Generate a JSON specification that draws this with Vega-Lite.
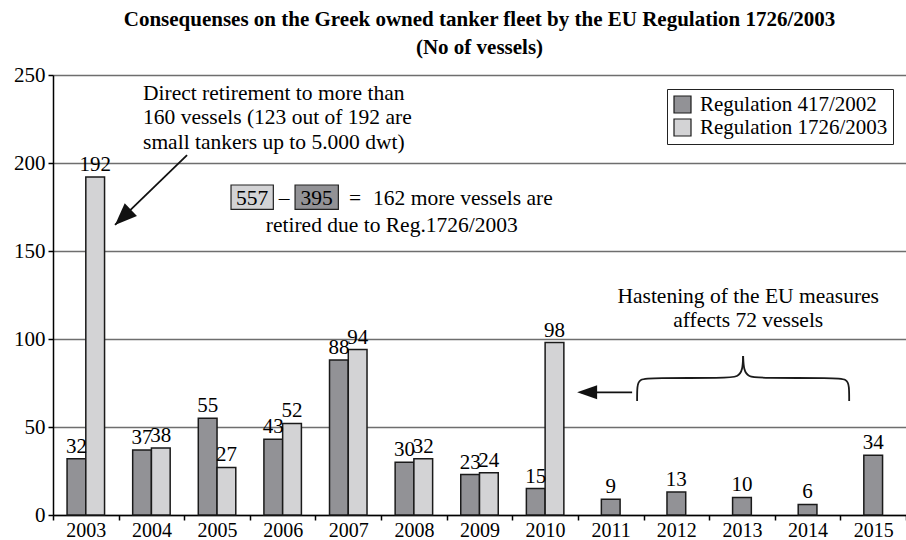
{
  "$schema": "https://vega.github.io/schema/vega-lite/v6.json",
  "width": 853,
  "height": 440,
  "autosize": {"type": "none"},
  "padding": {"left": 53, "top": 75, "right": 0, "bottom": 25},
  "background": "white",
  "config": {"font": "Liberation Serif", "view": {"stroke": null}},
  "title": {
    "text": ["Consequenses on the Greek owned tanker fleet by the EU Regulation 1726/2003", "(No of vessels)"],
    "font": "Liberation Serif",
    "fontSize": 21,
    "fontWeight": "bold",
    "color": "black",
    "anchor": "middle",
    "frame": "group",
    "lineHeight": 28,
    "offset": 6
  },
  "datasets": {
    "bars": [
      {"year": 2003, "regulation": "Regulation 417/2002", "vessels": 32},
      {"year": 2003, "regulation": "Regulation 1726/2003", "vessels": 192},
      {"year": 2004, "regulation": "Regulation 417/2002", "vessels": 37},
      {"year": 2004, "regulation": "Regulation 1726/2003", "vessels": 38},
      {"year": 2005, "regulation": "Regulation 417/2002", "vessels": 55},
      {"year": 2005, "regulation": "Regulation 1726/2003", "vessels": 27},
      {"year": 2006, "regulation": "Regulation 417/2002", "vessels": 43},
      {"year": 2006, "regulation": "Regulation 1726/2003", "vessels": 52},
      {"year": 2007, "regulation": "Regulation 417/2002", "vessels": 88},
      {"year": 2007, "regulation": "Regulation 1726/2003", "vessels": 94},
      {"year": 2008, "regulation": "Regulation 417/2002", "vessels": 30},
      {"year": 2008, "regulation": "Regulation 1726/2003", "vessels": 32},
      {"year": 2009, "regulation": "Regulation 417/2002", "vessels": 23},
      {"year": 2009, "regulation": "Regulation 1726/2003", "vessels": 24},
      {"year": 2010, "regulation": "Regulation 417/2002", "vessels": 15},
      {"year": 2010, "regulation": "Regulation 1726/2003", "vessels": 98},
      {"year": 2011, "regulation": "Regulation 417/2002", "vessels": 9},
      {"year": 2012, "regulation": "Regulation 417/2002", "vessels": 13},
      {"year": 2013, "regulation": "Regulation 417/2002", "vessels": 10},
      {"year": 2014, "regulation": "Regulation 417/2002", "vessels": 6},
      {"year": 2015, "regulation": "Regulation 417/2002", "vessels": 34}
    ],
    "notesLeft": [
      {"u": 2003.872, "v": 236.0, "label": "Direct retirement to more than"},
      {"u": 2003.872, "v": 222.0, "label": "160 vessels (123 out of 192 are"},
      {"u": 2003.872, "v": 208.0, "label": "small tankers up to 5.000 dwt)"},
      {"u": 2007.378, "v": 176.1, "label": "162 more vessels are"}
    ],
    "notesCenter": [
      {"u": 2006.021, "v": 176.1, "label": "–"},
      {"u": 2007.104, "v": 176.1, "label": "="},
      {"u": 2007.663, "v": 160.8, "label": "retired due to Reg.1726/2003"},
      {"u": 2013.095, "v": 120.45, "label": "Hastening of the EU measures"},
      {"u": 2013.095, "v": 106.82, "label": "affects 72 vessels"},
      {"u": 2005.534, "v": 176.1, "label": "557"},
      {"u": 2006.517, "v": 176.1, "label": "395"}
    ],
    "arrowLines": [
      {"u": 2004.543, "v": 204.5, "u2": 2003.445, "v2": 164.8},
      {"u": 2011.326, "v": 69.7, "u2": 2010.55, "v2": 69.7}
    ],
    "brace": [
      {"side": "L", "seq": 0, "u": 2011.402, "v": 64.77},
      {"side": "L", "seq": 1, "u": 2011.402, "v": 73.30},
      {"side": "L", "seq": 2, "u": 2011.433, "v": 77.27},
      {"side": "L", "seq": 3, "u": 2011.631, "v": 77.84},
      {"side": "L", "seq": 4, "u": 2012.759, "v": 77.84},
      {"side": "L", "seq": 5, "u": 2012.942, "v": 78.41},
      {"side": "L", "seq": 6, "u": 2013.011, "v": 82.39},
      {"side": "L", "seq": 7, "u": 2013.018, "v": 90.34},
      {"side": "R", "seq": 0, "u": 2014.634, "v": 64.77},
      {"side": "R", "seq": 1, "u": 2014.634, "v": 73.30},
      {"side": "R", "seq": 2, "u": 2014.604, "v": 77.27},
      {"side": "R", "seq": 3, "u": 2014.405, "v": 77.84},
      {"side": "R", "seq": 4, "u": 2013.277, "v": 77.84},
      {"side": "R", "seq": 5, "u": 2013.095, "v": 78.41},
      {"side": "R", "seq": 6, "u": 2013.026, "v": 82.39},
      {"side": "R", "seq": 7, "u": 2013.018, "v": 90.34}
    ]
  },
  "layer": [
    {
      "data": {"name": "bars"},
      "encoding": {
        "x": {
          "field": "year",
          "type": "ordinal",
          "scale": {"domain": [2003, 2004, 2005, 2006, 2007, 2008, 2009, 2010, 2011, 2012, 2013, 2014, 2015], "paddingInner": 0, "paddingOuter": 0},
          "axis": {
            "title": null,
            "labelAngle": 0,
            "labelFont": "Liberation Serif",
            "labelFontSize": 20,
            "labelColor": "black",
            "labelPadding": 0,
            "tickBand": "extent",
            "tickSize": 5,
            "tickColor": "black",
            "tickWidth": 1.5,
            "domainColor": "black",
            "domainWidth": 1.5,
            "grid": false
          }
        },
        "y": {
          "field": "vessels",
          "type": "quantitative",
          "scale": {"domain": [0, 250], "nice": false},
          "axis": {
            "title": null,
            "values": [0, 50, 100, 150, 200, 250],
            "grid": true,
            "gridColor": "#6e6e6e",
            "gridWidth": 1.5,
            "labelFont": "Liberation Serif",
            "labelFontSize": 21,
            "labelColor": "black",
            "labelPadding": 3,
            "tickSize": 5,
            "tickColor": "black",
            "tickWidth": 1.5,
            "domainColor": "black",
            "domainWidth": 1.5
          }
        }
      },
      "layer": [
        {
          "transform": [{"filter": "datum.year <= 2010"}],
          "mark": {"type": "bar", "stroke": "#1a1a1a", "strokeWidth": 1.5},
          "encoding": {
            "xOffset": {"field": "regulation", "type": "nominal", "sort": ["Regulation 417/2002", "Regulation 1726/2003"], "scale": {"domain": ["Regulation 417/2002", "Regulation 1726/2003"], "paddingOuter": 0.75, "paddingInner": 0}},
            "fill": {
              "field": "regulation",
              "type": "nominal",
              "scale": {"domain": ["Regulation 417/2002", "Regulation 1726/2003"], "range": ["#929296", "#d3d3d5"]},
              "legend": {
                "title": null,
                "orient": "none",
                "legendX": 614,
                "legendY": 14,
                "symbolType": "square",
                "symbolSize": 289,
                "symbolStrokeColor": "#1a1a1a",
                "symbolStrokeWidth": 1.2,
                "labelFont": "Liberation Serif",
                "labelFontSize": 21,
                "labelColor": "black",
                "labelOffset": 7,
                "labelLimit": 400,
                "rowPadding": 0,
                "padding": 5,
                "strokeColor": "#222222",
                "fillColor": "white"
              }
            }
          }
        },
        {
          "transform": [{"filter": "datum.year <= 2010"}],
          "mark": {"type": "text", "baseline": "alphabetic", "dy": -6, "fontSize": 21, "font": "Liberation Serif", "color": "black"},
          "encoding": {
            "xOffset": {"field": "regulation", "type": "nominal", "sort": ["Regulation 417/2002", "Regulation 1726/2003"], "scale": {"domain": ["Regulation 417/2002", "Regulation 1726/2003"], "paddingOuter": 0.75, "paddingInner": 0}},
            "text": {"field": "vessels", "type": "quantitative"}
          }
        },
        {
          "transform": [{"filter": "datum.year >= 2011"}],
          "mark": {"type": "bar", "width": {"band": 0.2857}, "stroke": "#1a1a1a", "strokeWidth": 1.5},
          "encoding": {
            "fill": {"field": "regulation", "type": "nominal", "scale": {"domain": ["Regulation 417/2002", "Regulation 1726/2003"], "range": ["#929296", "#d3d3d5"]}}
          }
        },
        {
          "transform": [{"filter": "datum.year >= 2011"}],
          "mark": {"type": "text", "baseline": "alphabetic", "dy": -6, "fontSize": 21, "font": "Liberation Serif", "color": "black"},
          "encoding": {
            "text": {"field": "vessels", "type": "quantitative"}
          }
        }
      ]
    },
    {
      "encoding": {
        "x": {"field": "u", "type": "quantitative", "scale": {"domain": [2002.5, 2015.5], "nice": false, "zero": false}, "axis": null},
        "y": {"field": "v", "type": "quantitative", "scale": {"domain": [0, 250], "nice": false}, "axis": null}
      },
      "layer": [
        {
          "data": {"name": "arrowLines"},
          "mark": {"type": "rule", "color": "#111111", "strokeWidth": 1.8},
          "encoding": {
            "x2": {"field": "u2"},
            "y2": {"field": "v2"}
          }
        },
        {
          "data": {"values": [{"u": 2003.445, "v": 164.8}]},
          "mark": {"type": "point", "shape": "M0,0L-0.4,1L0.4,1Z", "filled": true, "color": "#111111", "opacity": 1, "size": 1936, "angle": 226},
          "encoding": {}
        },
        {
          "data": {"values": [{"u": 2010.488, "v": 69.7}]},
          "mark": {"type": "point", "shape": "M0,0L-0.35,1L0.35,1Z", "filled": true, "color": "#111111", "opacity": 1, "size": 1600, "angle": 270},
          "encoding": {}
        },
        {
          "data": {"values": [{"u": 2005.213, "v": 187.5, "u2": 2005.858, "v2": 173.7}]},
          "mark": {"type": "rect", "fill": "#d3d3d5", "stroke": "#222222", "strokeWidth": 1.2},
          "encoding": {"x2": {"field": "u2"}, "y2": {"field": "v2"}}
        },
        {
          "data": {"values": [{"u": 2006.189, "v": 187.5, "u2": 2006.849, "v2": 173.7}]},
          "mark": {"type": "rect", "fill": "#929296", "stroke": "#222222", "strokeWidth": 1.2},
          "encoding": {"x2": {"field": "u2"}, "y2": {"field": "v2"}}
        },
        {
          "data": {"name": "notesLeft"},
          "mark": {"type": "text", "align": "left", "baseline": "alphabetic", "fontSize": 21.5, "font": "Liberation Serif", "color": "black"},
          "encoding": {"text": {"field": "label"}}
        },
        {
          "data": {"name": "notesCenter"},
          "mark": {"type": "text", "align": "center", "baseline": "alphabetic", "fontSize": 21.5, "font": "Liberation Serif", "color": "black"},
          "encoding": {"text": {"field": "label"}}
        },
        {
          "data": {"name": "brace"},
          "mark": {"type": "line", "interpolate": "basis", "color": "#1a1a1a", "strokeWidth": 1.8},
          "encoding": {
            "detail": {"field": "side"},
            "order": {"field": "seq", "type": "quantitative"}
          }
        }
      ]
    }
  ],
  "resolve": {"scale": {"x": "independent"}, "axis": {"x": "independent", "y": "independent"}}
}
